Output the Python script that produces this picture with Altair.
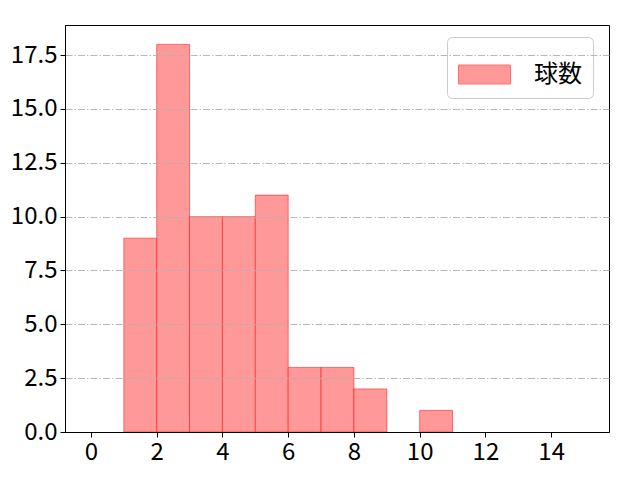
import altair as alt
import pandas as pd

bin_start = [1, 2, 3, 4, 5, 6, 7, 8, 10]
bin_end = [2, 3, 4, 5, 6, 7, 8, 9, 11]
counts = [9, 18, 10, 10, 11, 3, 3, 2, 1]
series_name = "球数"
x_ticks = [0, 2, 4, 6, 8, 10, 12, 14]
y_ticks = [0, 2.5, 5, 7.5, 10, 12.5, 15, 17.5]

df = pd.DataFrame({
    "start": bin_start,
    "end": bin_end,
    "count": counts,
    "series": [series_name] * len(counts),
})

FONT = "Noto Sans CJK JP"

bars = alt.Chart(df).mark_bar(
    stroke="#ff0000", strokeOpacity=0.5, strokeWidth=1, opacity=1
).encode(
    x=alt.X("start:Q",
            scale=alt.Scale(domain=[-0.79, 15.76], nice=False, zero=False),
            axis=alt.Axis(values=x_ticks, title=None, grid=False, format="d",
                          zindex=2)),
    x2="end:Q",
    y=alt.Y("count:Q",
            scale=alt.Scale(domain=[0, 18.9], nice=False, padding=0),
            axis=alt.Axis(values=y_ticks, title=None, grid=True, format=".1f",
                          gridColor="#b0b0b0", gridDash=[7, 2, 1.5, 2],
                          gridWidth=0.9, zindex=1)),
    y2=alt.datum(0),
    color=alt.Color("series:N",
                    scale=alt.Scale(range=["#ff9999"]),
                    legend=alt.Legend(
                        title=None, orient="none", legendX=382, legendY=12,
                        symbolType="M-1,-0.365H1V0.365H-1Z", symbolSize=2704,
                        symbolFillColor="#ff9999", symbolStrokeColor="#ff7070",
                        symbolStrokeWidth=1, symbolOpacity=1,
                        labelFont=FONT, labelFontSize=24, labelColor="black",
                        labelOffset=23, padding=11, strokeColor="#cccccc",
                        fillColor="white", cornerRadius=5)),
)

chart = bars.properties(
    width=544, height=407,
    autosize=alt.AutoSizeParams(type="none"),
    padding={"left": 57, "top": 17, "right": 20, "bottom": 40},
).configure_view(
    stroke="black", strokeWidth=1
).configure_axis(
    labelFont=FONT, labelFontSize=24, labelColor="black",
    domainColor="black", tickColor="black", tickSize=5, labelPadding=3,
    domainWidth=1, tickWidth=1,
)

chart.save("out.html", embed_options={"renderer": "svg", "actions": False})
